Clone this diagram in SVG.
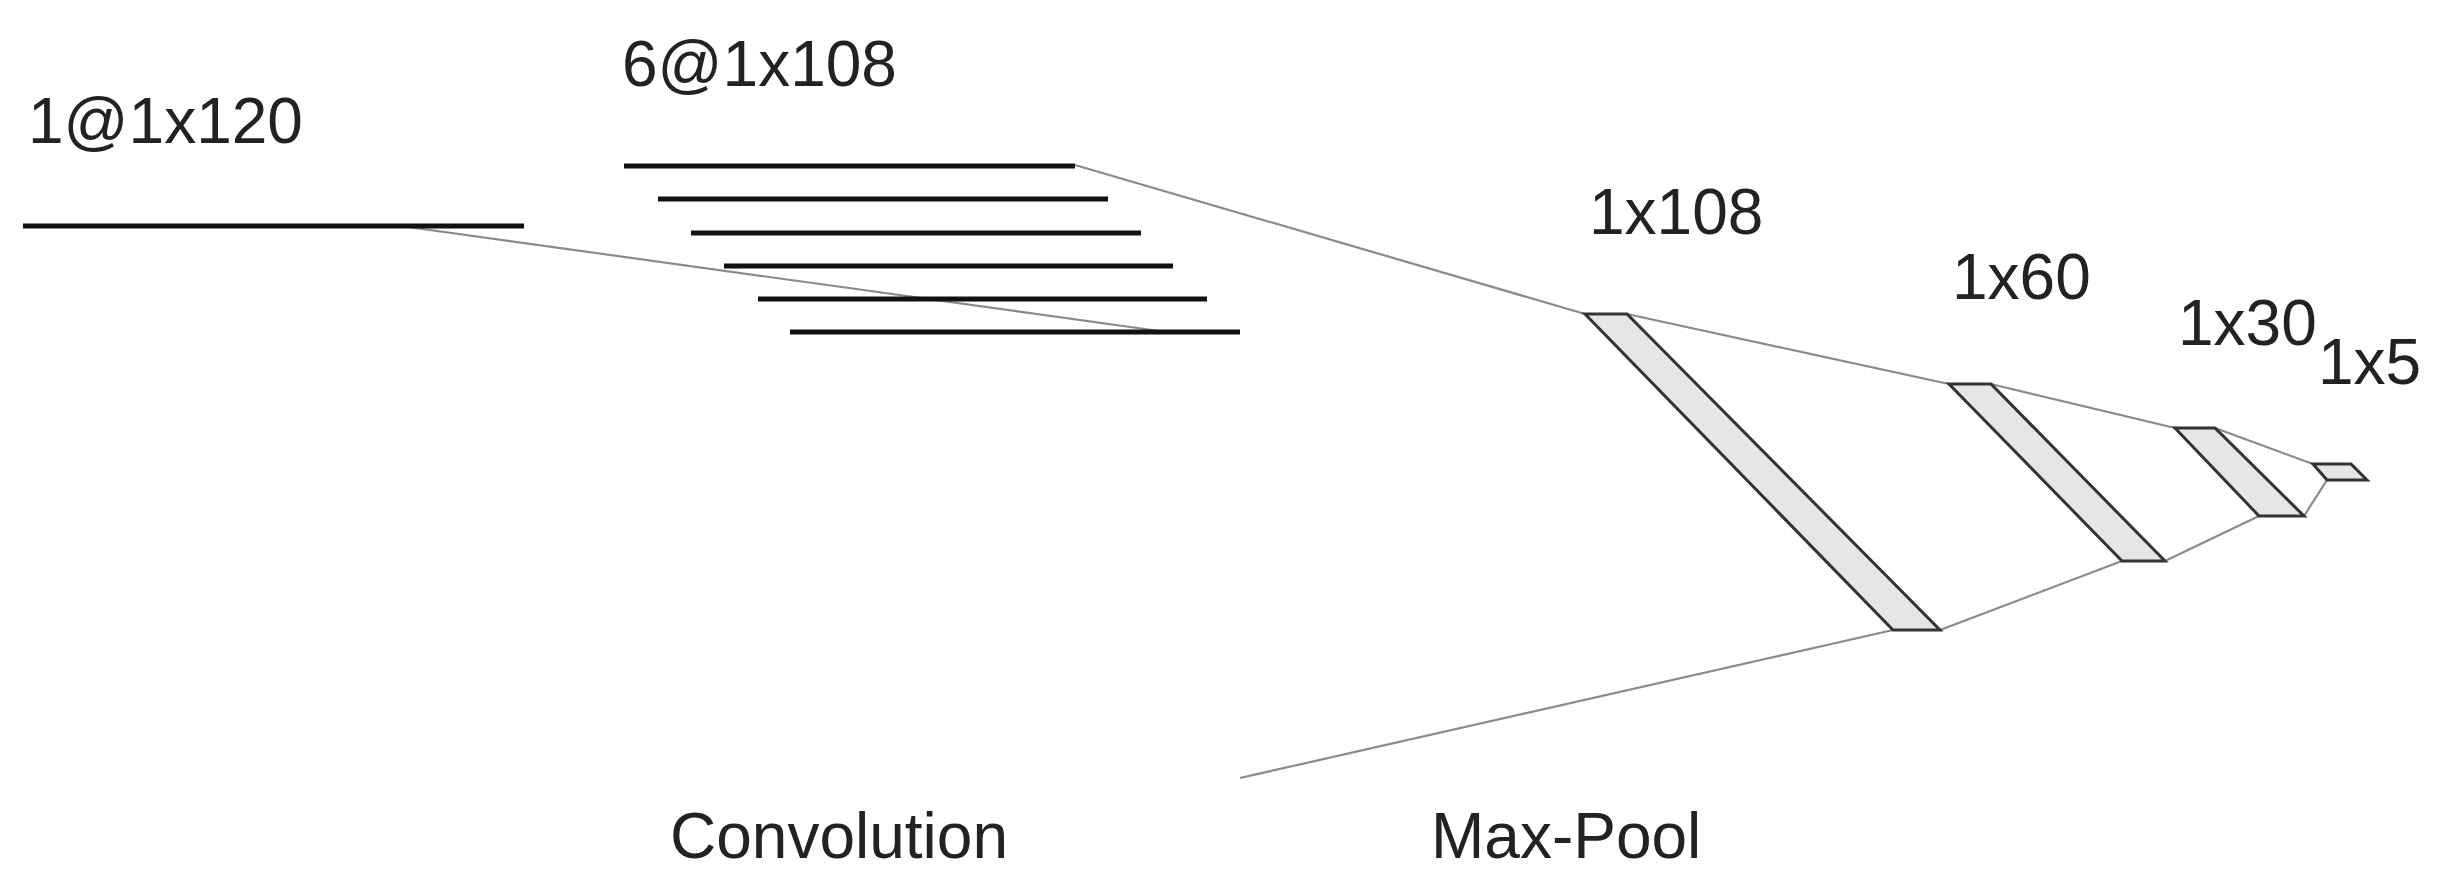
<svg xmlns="http://www.w3.org/2000/svg" width="2440" height="886" viewBox="0 0 2440 886">
<style>
text{font-family:"Liberation Sans",Arial,sans-serif;font-size:64px;fill:#222}
.bar{stroke:#111;stroke-width:5}
.c{stroke:#8a8a8a;stroke-width:2.2;fill:none}
.p{fill:#e6e6e6;stroke:#333;stroke-width:3;stroke-linejoin:miter}
</style>
<rect width="2440" height="886" fill="#fff"/>
<g id="connectors">
<line class="c" x1="401" y1="226" x2="1159" y2="331"/>
<line class="c" x1="1075" y1="165" x2="1585" y2="314"/>
<line class="c" x1="1240" y1="778" x2="1893" y2="630"/>
<line class="c" x1="1627" y1="314" x2="1949" y2="384"/>
<line class="c" x1="1940" y1="630" x2="2122" y2="561"/>
<line class="c" x1="1991" y1="384" x2="2175" y2="428"/>
<line class="c" x1="2165" y1="561" x2="2259" y2="516"/>
<line class="c" x1="2215" y1="428" x2="2313" y2="464"/>
<line class="c" x1="2304" y1="516" x2="2327" y2="480"/>
</g>
<g id="input">
<line class="bar" x1="23" y1="226" x2="524" y2="226"/>
<text x="28" y="143">1@1x120</text>
</g>
<g id="conv">
<line class="bar" x1="624" y1="166" x2="1075" y2="166"/>
<line class="bar" x1="658" y1="199" x2="1108" y2="199"/>
<line class="bar" x1="691" y1="233" x2="1141" y2="233"/>
<line class="bar" x1="724" y1="266" x2="1173" y2="266"/>
<line class="bar" x1="758" y1="299" x2="1207" y2="299"/>
<line class="bar" x1="790" y1="332" x2="1240" y2="332"/>
<text x="622" y="86">6@1x108</text>
</g>
<g id="fm108">
<polygon class="p" points="1585,314 1627,314 1940,630 1893,630"/>
<text x="1589" y="234">1x108</text>
</g>
<g id="fm60">
<polygon class="p" points="1949,384 1991,384 2165,561 2122,561"/>
<text x="1952" y="299">1x60</text>
</g>
<g id="fm30">
<polygon class="p" points="2175,428 2215,428 2304,516 2259,516"/>
<text x="2178" y="345">1x30</text>
</g>
<g id="fm5">
<polygon class="p" points="2313,464 2351,464 2367,480 2327,480"/>
<text x="2318" y="384">1x5</text>
</g>
<g id="labels">
<text x="670" y="858">Convolution</text>
<text x="1431" y="858">Max-Pool</text>
</g>
</svg>
